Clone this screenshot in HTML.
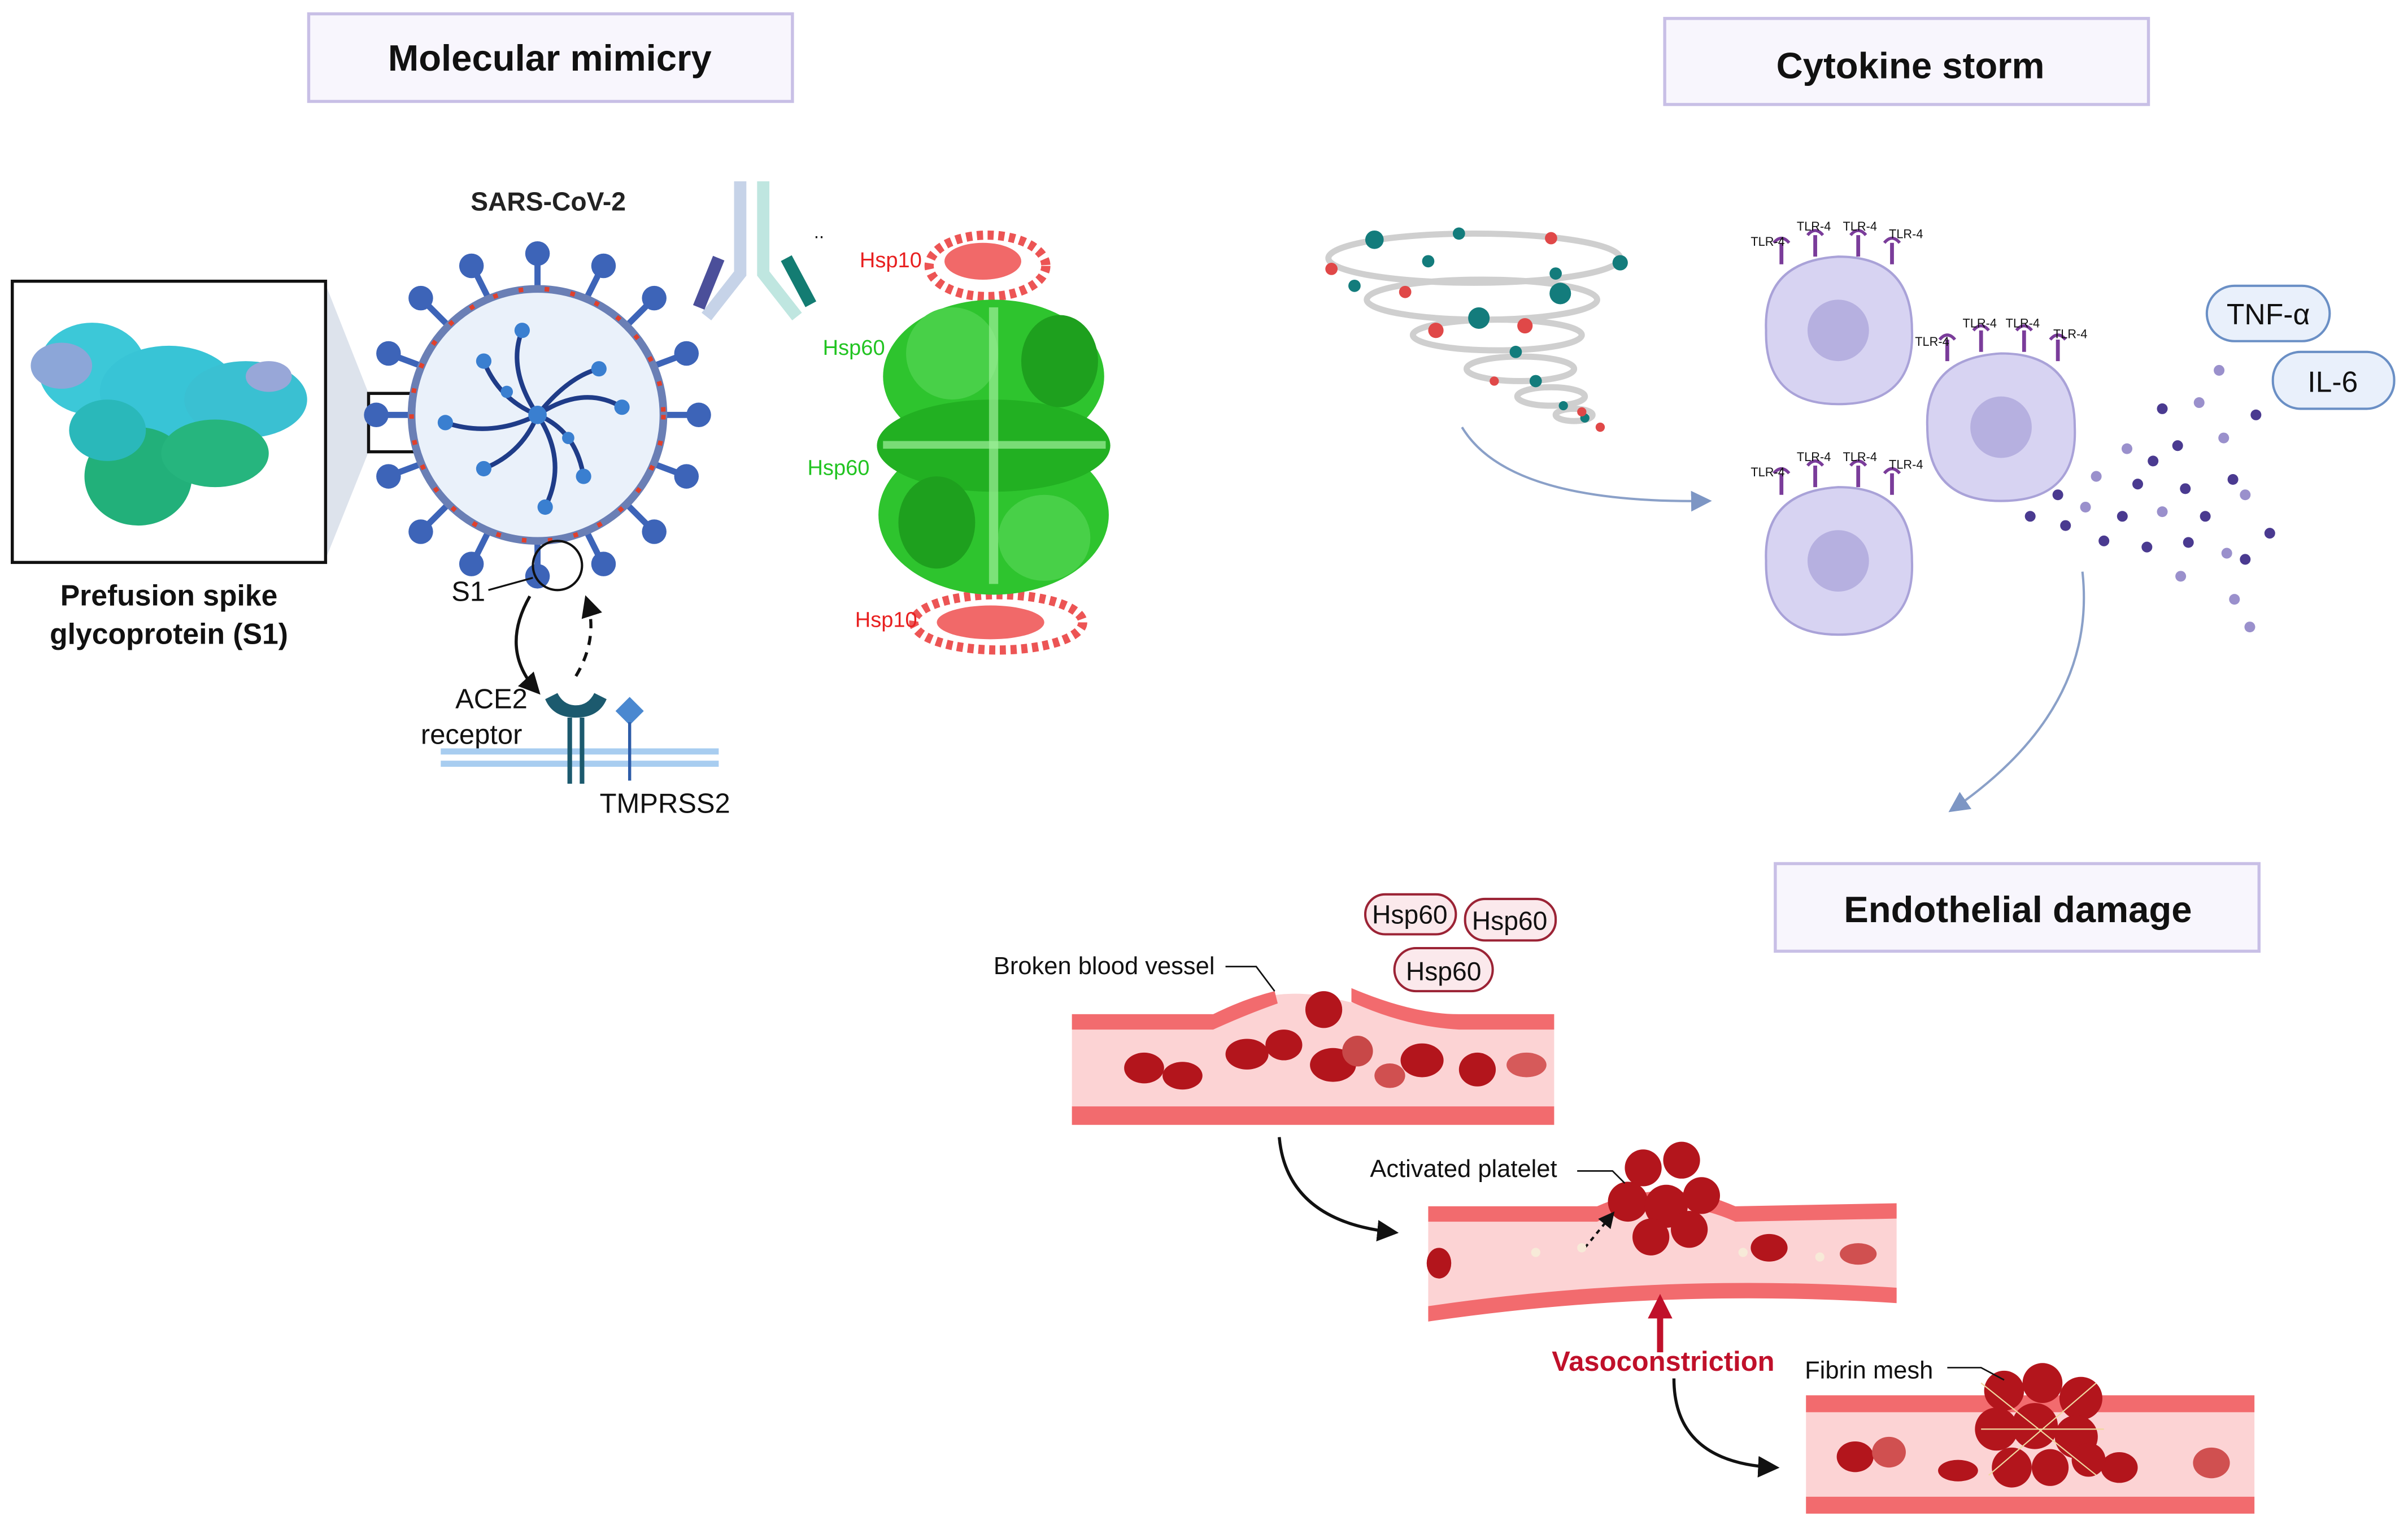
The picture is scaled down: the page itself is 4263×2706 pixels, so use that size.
<!DOCTYPE html>
<html><head><meta charset="utf-8">
<style>
html,body{margin:0;padding:0;background:#fff;}
svg{display:block;}
text{font-family:"Liberation Sans",sans-serif;}
</style></head>
<body>
<svg width="4263" height="2706" viewBox="0 0 1568 995" preserveAspectRatio="none" xmlns="http://www.w3.org/2000/svg">
<defs>
<marker id="ah" viewBox="0 0 10 10" refX="8" refY="5" markerWidth="7" markerHeight="7" orient="auto"><path d="M0,0L10,5L0,10z" fill="#111"/></marker>
<marker id="ab" viewBox="0 0 10 10" refX="8" refY="5" markerWidth="9" markerHeight="9" orient="auto"><path d="M0,0L10,5L0,10z" fill="#7d96c4"/></marker>
</defs>
<rect width="1568" height="995" fill="#fff"/>

<!-- Title boxes -->
<rect x="201" y="9" width="315" height="57" fill="#f8f6fd" stroke="#c8bfe6" stroke-width="2"/>
<text x="358" y="46" font-size="24" font-weight="bold" text-anchor="middle" fill="#111">Molecular mimicry</text>
<rect x="1084" y="12" width="315" height="56" fill="#f8f6fd" stroke="#c8bfe6" stroke-width="2"/>
<text x="1244" y="51" font-size="24" font-weight="bold" text-anchor="middle" fill="#111">Cytokine storm</text>
<rect x="1156" y="562" width="315" height="57" fill="#f8f6fd" stroke="#c8bfe6" stroke-width="2"/>
<text x="1314" y="600" font-size="24" font-weight="bold" text-anchor="middle" fill="#111">Endothelial damage</text>

<!-- Prefusion spike box -->
<polygon points="212,185 240,256 240,294 212,364" fill="#dde3ec"/>
<rect x="8" y="183" width="204" height="183" fill="#fff" stroke="#111" stroke-width="2"/>
<g>
<ellipse cx="60" cy="240" rx="35" ry="30" fill="#3cc8d8"/>
<ellipse cx="40" cy="238" rx="20" ry="15" fill="#8ca6d8"/>
<ellipse cx="110" cy="255" rx="45" ry="30" fill="#38c4d6"/>
<ellipse cx="160" cy="260" rx="40" ry="25" fill="#3ac0d2"/>
<ellipse cx="90" cy="310" rx="35" ry="32" fill="#22b07a"/>
<ellipse cx="140" cy="295" rx="35" ry="22" fill="#26b57e"/>
<ellipse cx="70" cy="280" rx="25" ry="20" fill="#2ab8ba"/>
<ellipse cx="175" cy="245" rx="15" ry="10" fill="#98a7d8"/>
</g>
<text x="110" y="394" font-size="19" font-weight="bold" text-anchor="middle" fill="#111">Prefusion spike</text>
<text x="110" y="419" font-size="19" font-weight="bold" text-anchor="middle" fill="#111">glycoprotein (S1)</text>
<rect x="240" y="256" width="36" height="38" fill="none" stroke="#111" stroke-width="2"/>

<!-- Virus -->
<text x="357" y="137" font-size="17" font-weight="bold" text-anchor="middle" fill="#222">SARS-CoV-2</text>
<g stroke="#3d64b8" stroke-width="4" fill="#3d64b8">
<line x1="350" y1="188" x2="350" y2="170"/><line x1="350" y1="352" x2="350" y2="370"/>
<line x1="268" y1="270" x2="250" y2="270"/><line x1="432" y1="270" x2="450" y2="270"/>
<line x1="292" y1="212" x2="278" y2="198"/><line x1="408" y1="212" x2="422" y2="198"/>
<line x1="292" y1="328" x2="278" y2="342"/><line x1="408" y1="328" x2="422" y2="342"/>
<line x1="318" y1="194" x2="310" y2="178"/><line x1="382" y1="194" x2="390" y2="178"/>
<line x1="318" y1="346" x2="310" y2="362"/><line x1="382" y1="346" x2="390" y2="362"/>
<line x1="274" y1="238" x2="258" y2="232"/><line x1="426" y1="238" x2="442" y2="232"/>
<line x1="274" y1="302" x2="258" y2="308"/><line x1="426" y1="302" x2="442" y2="308"/>
</g>
<g fill="#3d64b8">
<circle cx="350" cy="165" r="8"/><circle cx="350" cy="375" r="8"/><circle cx="245" cy="270" r="8"/><circle cx="455" cy="270" r="8"/>
<circle cx="274" cy="194" r="8"/><circle cx="426" cy="194" r="8"/><circle cx="274" cy="346" r="8"/><circle cx="426" cy="346" r="8"/>
<circle cx="307" cy="173" r="8"/><circle cx="393" cy="173" r="8"/><circle cx="307" cy="367" r="8"/><circle cx="393" cy="367" r="8"/>
<circle cx="253" cy="230" r="8"/><circle cx="447" cy="230" r="8"/><circle cx="253" cy="310" r="8"/><circle cx="447" cy="310" r="8"/>
</g>
<circle cx="350" cy="270" r="82" fill="#eaf1fa" stroke="#6a7fb5" stroke-width="5"/>
<circle cx="350" cy="270" r="82" fill="none" stroke="#e0402c" stroke-width="3" stroke-dasharray="3 14"/>
<g stroke="#1f3c88" stroke-width="3" fill="none">
<path d="M350,270 q-20,-30 -10,-55"/><path d="M350,270 q30,-20 55,-5"/><path d="M350,270 q20,30 5,60"/>
<path d="M350,270 q-30,15 -60,5"/><path d="M350,270 q-25,-10 -35,-35"/><path d="M350,270 q25,10 30,40"/>
<path d="M350,270 q-10,25 -35,35"/><path d="M350,270 q20,-25 40,-30"/>
</g>
<g fill="#3a7fd0">
<circle cx="340" cy="215" r="5"/><circle cx="405" cy="265" r="5"/><circle cx="355" cy="330" r="5"/><circle cx="290" cy="275" r="5"/>
<circle cx="315" cy="235" r="5"/><circle cx="380" cy="310" r="5"/><circle cx="315" cy="305" r="5"/><circle cx="390" cy="240" r="5"/>
<circle cx="350" cy="270" r="6"/><circle cx="330" cy="255" r="4"/><circle cx="370" cy="285" r="4"/>
</g>
<circle cx="363" cy="368" r="16" fill="none" stroke="#111" stroke-width="1.5"/>
<text x="305" y="391" font-size="18" text-anchor="middle" fill="#111">S1</text>
<line x1="318" y1="384" x2="347" y2="376" stroke="#111" stroke-width="1.2"/>
<path d="M345,388 q-20,35 5,62" stroke="#111" stroke-width="2" fill="none" marker-end="url(#ah)"/>
<path d="M375,440 q15,-25 7,-50" stroke="#111" stroke-width="2" fill="none" stroke-dasharray="6 5" marker-end="url(#ah)"/>
<text x="320" y="461" font-size="18" text-anchor="middle" fill="#111">ACE2</text>
<text x="307" y="484" font-size="18" text-anchor="middle" fill="#111">receptor</text>
<rect x="287" y="487" width="181" height="4" fill="#a8cdf0"/><rect x="287" y="495" width="181" height="4" fill="#a8cdf0"/>
<path d="M355,455 q5,12 20,12 q15,0 20,-12 l-8,-4 q-4,8 -12,8 q-8,0 -12,-8z" fill="#1c5a6e"/>
<line x1="371" y1="467" x2="371" y2="510" stroke="#1c5a6e" stroke-width="3"/><line x1="379" y1="467" x2="379" y2="510" stroke="#1c5a6e" stroke-width="3"/>
<rect x="404" y="456" width="13" height="13" fill="#4a88d0" transform="rotate(45 410 462)"/>
<line x1="410" y1="470" x2="410" y2="508" stroke="#2d5ca8" stroke-width="2"/>
<text x="433" y="529" font-size="18" text-anchor="middle" fill="#111">TMPRSS2</text>

<!-- Antibody -->
<path d="M482,118 v60 l-22,28" stroke="#c6d3e8" stroke-width="8" fill="none"/>
<path d="M497,118 v60 l22,28" stroke="#bfe6e0" stroke-width="8" fill="none"/>
<line x1="468" y1="168" x2="455" y2="200" stroke="#4b4f9a" stroke-width="8"/>
<line x1="512" y1="168" x2="528" y2="198" stroke="#137c72" stroke-width="8"/>
<text x="530" y="155" font-size="12" fill="#111">..</text>

<!-- Hsp structure -->
<g opacity="0.8">
<ellipse cx="643" cy="173" rx="38" ry="20" fill="none" stroke="#e82a2a" stroke-width="6" stroke-dasharray="4 3"/>
<ellipse cx="640" cy="170" rx="25" ry="12" fill="#ee4444"/>
<ellipse cx="650" cy="405" rx="55" ry="18" fill="none" stroke="#e82a2a" stroke-width="6" stroke-dasharray="4 3"/>
<ellipse cx="645" cy="405" rx="35" ry="11" fill="#ee4444"/>
</g>
<g>
<ellipse cx="647" cy="245" rx="72" ry="50" fill="#2ec42e"/>
<ellipse cx="647" cy="335" rx="75" ry="52" fill="#2ec42e"/>
<ellipse cx="647" cy="290" rx="76" ry="30" fill="#22b022"/>
<ellipse cx="620" cy="230" rx="30" ry="30" fill="#48d048"/>
<ellipse cx="680" cy="350" rx="30" ry="28" fill="#48d048"/>
<ellipse cx="610" cy="340" rx="25" ry="30" fill="#1ea01e"/>
<ellipse cx="690" cy="235" rx="25" ry="30" fill="#1ea01e"/>
<rect x="644" y="200" width="6" height="180" fill="#9ef09a" opacity="0.7"/>
<rect x="575" y="287" width="145" height="5" fill="#9ef09a" opacity="0.7"/>
</g>
<text x="580" y="174" font-size="14" fill="#e82020" text-anchor="middle">Hsp10</text>
<text x="556" y="231" font-size="14" fill="#22c422" text-anchor="middle">Hsp60</text>
<text x="546" y="309" font-size="14" fill="#22c422" text-anchor="middle">Hsp60</text>
<text x="577" y="408" font-size="14" fill="#e82020" text-anchor="middle">Hsp10</text>

<!-- Tornado -->
<g fill="none" stroke="#cfcfcf" stroke-width="4">
<ellipse cx="960" cy="168" rx="95" ry="16"/>
<ellipse cx="965" cy="195" rx="75" ry="13"/>
<ellipse cx="975" cy="218" rx="55" ry="10"/>
<ellipse cx="990" cy="240" rx="35" ry="8"/>
<ellipse cx="1010" cy="258" rx="22" ry="6"/>
<ellipse cx="1025" cy="270" rx="12" ry="4"/>
</g>
<g fill="#137c7c">
<circle cx="895" cy="156" r="6"/><circle cx="1055" cy="171" r="5"/><circle cx="963" cy="207" r="7"/><circle cx="1016" cy="191" r="7"/>
<circle cx="950" cy="152" r="4"/><circle cx="882" cy="186" r="4"/><circle cx="930" cy="170" r="4"/><circle cx="987" cy="229" r="4"/>
<circle cx="1000" cy="248" r="4"/><circle cx="1018" cy="264" r="3"/><circle cx="1032" cy="272" r="3"/><circle cx="1013" cy="178" r="4"/>
</g>
<g fill="#e04848">
<circle cx="867" cy="175" r="4"/><circle cx="1010" cy="155" r="4"/><circle cx="935" cy="215" r="5"/><circle cx="993" cy="212" r="5"/>
<circle cx="915" cy="190" r="4"/><circle cx="973" cy="248" r="3"/><circle cx="1042" cy="278" r="3"/><circle cx="1030" cy="268" r="3"/>
</g>
<path d="M952,278 q30,50 160,48" stroke="#8aa0c8" stroke-width="1.5" fill="none" marker-end="url(#ab)"/>

<!-- Cells -->
<g>
<path d="M1150,215 q-2,-45 47,-48 q48,0 48,48 q2,48 -48,48 q-48,0 -47,-48z" fill="#d7d3f2" stroke="#a9a2d8" stroke-width="1.5"/>
<circle cx="1197" cy="215" r="20" fill="#b6b0e0"/>
<path d="M1255,278 q-2,-45 48,-48 q48,0 48,48 q2,48 -48,48 q-48,0 -48,-48z" fill="#d7d3f2" stroke="#a9a2d8" stroke-width="1.5"/>
<circle cx="1303" cy="278" r="20" fill="#b6b0e0"/>
<path d="M1150,365 q-2,-45 47,-48 q48,0 48,48 q2,48 -48,48 q-48,0 -47,-48z" fill="#d7d3f2" stroke="#a9a2d8" stroke-width="1.5"/>
<circle cx="1197" cy="365" r="20" fill="#b6b0e0"/>
</g>
<g stroke="#7a3c9a" stroke-width="2.5" fill="none">
<path d="M1160,172 v-14 M1182,167 v-14 M1210,167 v-14 M1232,172 v-14"/>
<path d="M1268,235 v-14 M1290,229 v-14 M1318,229 v-14 M1340,235 v-14"/>
<path d="M1160,322 v-14 M1182,317 v-14 M1210,317 v-14 M1232,322 v-14"/>
</g>
<g stroke="#7a3c9a" stroke-width="2" fill="none">
<path d="M1155,158 q5,-6 10,0 M1177,153 q5,-6 10,0 M1205,153 q5,-6 10,0 M1227,158 q5,-6 10,0"/>
<path d="M1263,221 q5,-6 10,0 M1285,215 q5,-6 10,0 M1313,215 q5,-6 10,0 M1335,221 q5,-6 10,0"/>
<path d="M1155,308 q5,-6 10,0 M1177,303 q5,-6 10,0 M1205,303 q5,-6 10,0 M1227,308 q5,-6 10,0"/>
</g>
<g font-size="8" fill="#111">
<text x="1140" y="160">TLR-4</text><text x="1170" y="150">TLR-4</text><text x="1200" y="150">TLR-4</text><text x="1230" y="155">TLR-4</text>
<text x="1247" y="225">TLR-4</text><text x="1278" y="213">TLR-4</text><text x="1306" y="213">TLR-4</text><text x="1337" y="220">TLR-4</text>
<text x="1140" y="310">TLR-4</text><text x="1170" y="300">TLR-4</text><text x="1200" y="300">TLR-4</text><text x="1230" y="305">TLR-4</text>
</g>
<rect x="1437" y="186" width="80" height="36" rx="18" fill="#e9f0fb" stroke="#6a8fc5" stroke-width="1.5"/>
<text x="1477" y="211" font-size="19" text-anchor="middle" fill="#111">TNF-α</text>
<rect x="1480" y="229" width="79" height="37" rx="18" fill="#e9f0fb" stroke="#6a8fc5" stroke-width="1.5"/>
<text x="1519" y="255" font-size="19" text-anchor="middle" fill="#111">IL-6</text>
<g fill="#4a3a90">
<circle cx="1445" cy="241" r="3.5" fill="#9a90cc"/><circle cx="1408" cy="266" r="3.5"/><circle cx="1469" cy="270" r="3.5"/><circle cx="1432" cy="262" r="3.5" fill="#9a90cc"/>
<circle cx="1385" cy="292" r="3.5" fill="#9a90cc"/><circle cx="1418" cy="290" r="3.5"/><circle cx="1448" cy="285" r="3.5" fill="#9a90cc"/><circle cx="1402" cy="300" r="3.5"/>
<circle cx="1365" cy="310" r="3.5" fill="#9a90cc"/><circle cx="1392" cy="315" r="3.5"/><circle cx="1423" cy="318" r="3.5"/><circle cx="1454" cy="312" r="3.5"/>
<circle cx="1340" cy="322" r="3.5"/><circle cx="1358" cy="330" r="3.5" fill="#9a90cc"/><circle cx="1382" cy="336" r="3.5"/><circle cx="1408" cy="333" r="3.5" fill="#9a90cc"/>
<circle cx="1436" cy="336" r="3.5"/><circle cx="1462" cy="322" r="3.5" fill="#9a90cc"/><circle cx="1322" cy="336" r="3.5"/><circle cx="1345" cy="342" r="3.5"/>
<circle cx="1370" cy="352" r="3.5"/><circle cx="1398" cy="356" r="3.5"/><circle cx="1425" cy="353" r="3.5"/><circle cx="1478" cy="347" r="3.5"/>
<circle cx="1450" cy="360" r="3.5" fill="#9a90cc"/><circle cx="1462" cy="364" r="3.5"/><circle cx="1420" cy="375" r="3.5" fill="#9a90cc"/>
<circle cx="1455" cy="390" r="3.5" fill="#9a90cc"/><circle cx="1465" cy="408" r="3.5" fill="#9a90cc"/>
</g>
<path d="M1356,372 q10,90 -85,155" stroke="#8aa0c8" stroke-width="1.5" fill="none" marker-end="url(#ab)"/>

<!-- Hsp60 pills -->
<g fill="#fbe9ec" stroke="#9b2335" stroke-width="1.5">
<rect x="889" y="582" width="59" height="26" rx="13"/>
<rect x="954" y="585" width="59" height="27" rx="13"/>
<rect x="908" y="617" width="64" height="28" rx="14"/>
</g>
<g font-size="17" fill="#111" text-anchor="middle">
<text x="918" y="601">Hsp60</text><text x="983" y="605">Hsp60</text><text x="940" y="638">Hsp60</text>
</g>

<!-- Vessel 1 -->
<path d="M698,660 L790,660 Q830,640 870,650 Q910,660 950,660 L1012,660 L1012,732 L698,732z" fill="#fcd3d4"/>
<path d="M698,660 L790,660 Q810,650 830,645 L832,653 Q812,660 790,670 L698,670z" fill="#f26b6e"/>
<path d="M880,643 Q920,660 950,660 L1012,660 L1012,670 L950,670 Q915,668 880,652z" fill="#f26b6e"/>
<rect x="698" y="720" width="314" height="12" fill="#f26b6e"/>
<g fill="#b3151c">
<ellipse cx="745" cy="695" rx="13" ry="10"/><ellipse cx="770" cy="700" rx="13" ry="9"/><ellipse cx="812" cy="686" rx="14" ry="10"/>
<ellipse cx="836" cy="680" rx="12" ry="10"/><ellipse cx="862" cy="657" rx="12" ry="12"/><ellipse cx="868" cy="693" rx="15" ry="11"/>
<ellipse cx="926" cy="690" rx="14" ry="11"/><ellipse cx="962" cy="696" rx="12" ry="11"/><ellipse cx="905" cy="700" rx="10" ry="8" fill="#d05050"/>
<ellipse cx="994" cy="693" rx="13" ry="8" fill="#d65a5a"/><ellipse cx="884" cy="684" rx="10" ry="10" fill="#c84848"/>
</g>
<text x="791" y="634" font-size="16" fill="#111" text-anchor="end">Broken blood vessel</text>
<path d="M798,629 L818,629 L830,645" stroke="#111" stroke-width="1" fill="none"/>
<path d="M833,740 q5,55 75,62" stroke="#111" stroke-width="2" fill="none" marker-end="url(#ah)"/>

<!-- Vessel 2 -->
<path d="M930,785 L1040,785 Q1085,765 1130,790 L1235,785 L1235,845 Q1080,840 930,857z" fill="#fcd3d4"/>
<path d="M930,785 L1040,785 Q1085,765 1130,785 L1235,783 L1235,793 L1130,795 Q1085,775 1040,795 L930,795z" fill="#f26b6e"/>
<path d="M930,850 Q1080,828 1235,838 L1235,848 Q1080,838 930,860z" fill="#f26b6e"/>
<g fill="#b3151c">
<ellipse cx="937" cy="822" rx="8" ry="10"/><ellipse cx="1152" cy="812" rx="12" ry="9"/><ellipse cx="1210" cy="816" rx="12" ry="7" fill="#d05050"/>
<circle cx="1070" cy="760" r="12"/><circle cx="1095" cy="755" r="12"/><circle cx="1060" cy="782" r="13"/><circle cx="1085" cy="785" r="14"/>
<circle cx="1108" cy="778" r="12"/><circle cx="1075" cy="805" r="12"/><circle cx="1100" cy="800" r="12"/>
</g>
<text x="953" y="766" font-size="16" fill="#111" text-anchor="middle">Activated platelet</text>
<path d="M1027,762 L1050,762 L1058,770" stroke="#111" stroke-width="1" fill="none"/>
<path d="M1032,812 L1050,790" stroke="#111" stroke-width="1.5" stroke-dasharray="3 3" fill="none" marker-end="url(#ah)"/>
<g fill="#f7ead8"><circle cx="1000" cy="815" r="3"/><circle cx="1030" cy="812" r="3"/><circle cx="1185" cy="818" r="3"/><circle cx="1135" cy="815" r="3"/></g>

<!-- Vasoconstriction -->
<rect x="1079" y="855" width="4" height="25" fill="#c0102a"/>
<path d="M1073,858 L1081,842 L1089,858z" fill="#c0102a"/>
<text x="1083" y="892" font-size="18" font-weight="bold" fill="#c0102a" text-anchor="middle">Vasoconstriction</text>
<path d="M1090,897 q0,55 66,58" stroke="#111" stroke-width="2" fill="none" marker-end="url(#ah)"/>

<!-- Vessel 3 -->
<rect x="1176" y="908" width="292" height="77" fill="#fcd3d4"/>
<rect x="1176" y="908" width="292" height="11" fill="#f26b6e"/>
<rect x="1176" y="974" width="292" height="11" fill="#f26b6e"/>
<g fill="#b3151c">
<ellipse cx="1208" cy="948" rx="12" ry="10"/><ellipse cx="1230" cy="945" rx="11" ry="10" fill="#d05050"/><ellipse cx="1275" cy="957" rx="13" ry="7"/>
<ellipse cx="1380" cy="955" rx="12" ry="10"/><ellipse cx="1440" cy="952" rx="12" ry="10" fill="#d05050"/>
<circle cx="1305" cy="905" r="13"/><circle cx="1330" cy="900" r="13"/><circle cx="1355" cy="910" r="14"/>
<circle cx="1300" cy="930" r="14"/><circle cx="1325" cy="928" r="15"/><circle cx="1352" cy="935" r="14"/>
<circle cx="1310" cy="955" r="13"/><circle cx="1335" cy="955" r="12"/><circle cx="1360" cy="950" r="11"/>
</g>
<g stroke="#f0d8a0" stroke-width="0.8" fill="none"><path d="M1290,900 L1365,960 M1295,960 L1365,900 M1290,930 L1370,930"/></g>
<text x="1217" y="897" font-size="16" fill="#111" text-anchor="middle">Fibrin mesh</text>
<path d="M1268,890 L1290,890 L1305,898" stroke="#111" stroke-width="1" fill="none"/>
</svg>
</body></html>
